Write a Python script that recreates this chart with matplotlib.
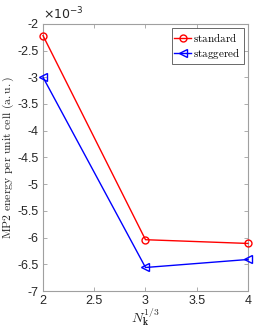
import matplotlib
matplotlib.use("Agg")
import matplotlib.pyplot as plt
from matplotlib.ticker import FuncFormatter, MultipleLocator

plt.rcParams['axes.unicode_minus'] = False
plt.rcParams['mathtext.fontset'] = 'cm'
plt.rcParams['font.family'] = ['Liberation Sans', 'DejaVu Sans']

nk = [2, 3, 4]
standard = [-2.22e-3, -6.04e-3, -6.11e-3]
staggered = [-3.00e-3, -6.56e-3, -6.41e-3]

fig = plt.figure(figsize=(2.74, 3.29), dpi=100)
ax = fig.add_axes([0.157, 0.1155, 0.748, 0.812])

ax.plot(nk, standard, color='red', lw=1.0, marker='o', ms=5, mfc='none', mew=1.0,
        label='standard', clip_on=False, zorder=3)
ax.plot(nk, staggered, color='blue', lw=1.0, marker='<', ms=5.5, mfc='none', mew=1.0,
        label='staggered', clip_on=False, zorder=3)

ax.set_xlim(2, 4)
ax.set_ylim(-7e-3, -2e-3)
ax.xaxis.set_major_locator(MultipleLocator(0.5))
ax.yaxis.set_major_locator(MultipleLocator(0.5e-3))
ax.xaxis.set_major_formatter(FuncFormatter(lambda v, p: '%g' % v))
ax.yaxis.set_major_formatter(FuncFormatter(lambda v, p: '%g' % round(v * 1e3, 6)))

gray = '#262626'
ax.text(0.0, 1.005, r'$\times10^{-3}$', transform=ax.transAxes, fontsize=9,
        color=gray, ha='left', va='bottom', math_fontfamily='dejavusans')

for sp in ax.spines.values():
    sp.set_color('#a0a0a0')
    sp.set_linewidth(0.8)
ax.tick_params(direction='in', top=True, right=True, length=3, width=0.6,
               colors='#a0a0a0', labelcolor=gray, labelsize=9, pad=3)

ax.set_ylabel(r'$\mathrm{MP2\ energy\ per\ unit\ cell\ (a.u.)}$', fontsize=8.5, color=gray, labelpad=1)
ax.set_xlabel(r'$N_{\mathbf{k}}^{1/3}$', fontsize=10, color=gray, labelpad=-1)

leg = ax.legend(loc='upper right', prop={'size': 8},
                frameon=True, fancybox=False, borderpad=0.25, handlelength=1.5,
                handletextpad=0.2, labelspacing=0.2, borderaxespad=0.4)
leg.set_zorder(5)
leg.get_frame().set_edgecolor('#262626')
leg.get_frame().set_linewidth(0.6)
leg.texts[0].set_text(r'$\mathrm{standard}$')
leg.texts[1].set_text(r'$\mathrm{staggered}$')

fig.savefig('out.png', dpi=100)
